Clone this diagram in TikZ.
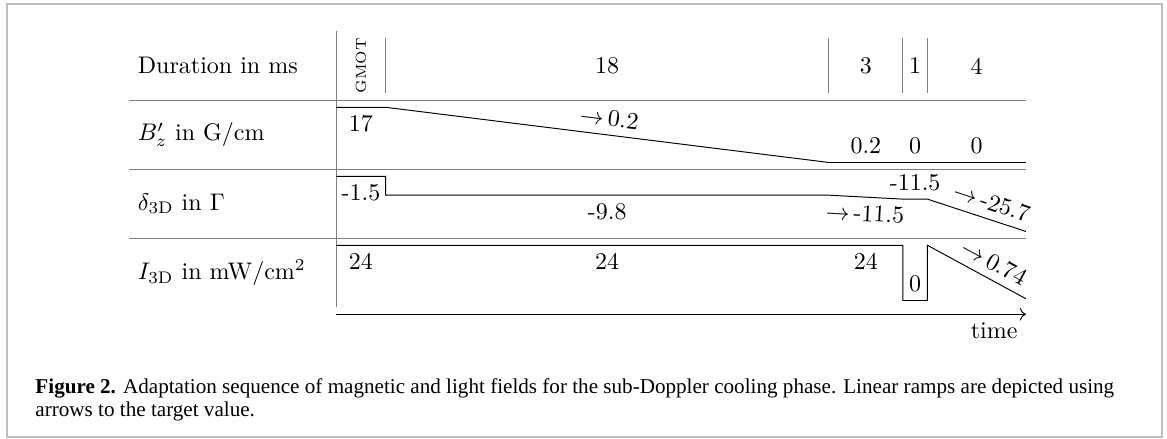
\documentclass[tikz,border=0pt]{standalone}
\usepackage{fontspec}
\newfontfamily\capfont{Liberation Serif}
\usetikzlibrary{arrows.meta, positioning}
\tikzset{
  grid/.style={draw=gray, line width=0.4pt},
  signal/.style={draw=black, line width=0.4pt},
  rowlabel/.style={anchor=west},
  value/.style={inner sep=3.3pt},
  ramp/.style={sloped, inner sep=3.3pt},
  frame/.style={draw=black!25, line width=0.8pt},
  caption/.style={font=\capfont\fontsize{8.8}{10.5}\selectfont, anchor=base west, inner sep=0pt},
}
\newcommand{\target}[1]{$\to$\,#1}

\begin{document}
\begin{tikzpicture}[x=0.3607cm, y=1.0105cm]
  \useasboundingbox (-13.654,-1.807) rectangle (33.727,4.555);
  % frame
  \draw[frame] (-13.37,-1.778) rectangle (33.52,4.497);
  % row labels
  \node[rowlabel] (ldur) at (-8.4,3.6) {Duration in ms};
  \node[rowlabel] (lB) at (-8.4,2.6) {$B'_z$ in G/cm};
  \node[rowlabel] (ldelta) at (-8.4,1.6) {$\delta_{\mathrm{3D}}$ in $\Gamma$};
  \node[rowlabel] (lI) at (-8.4,0.6) {$I_{\mathrm{3D}}$ in mW/cm$^2$};
  % grid
  \draw[grid] (0,0.1) -- (0,4.1);
  \foreach \y in {1.1,2.1,3.1} \draw[grid] (-8.4,\y) -- (28,\y);
  \foreach \t in {2,20,23,24} \draw[grid] (\t,3.2) -- (\t,4.0);
  % durations
  \node[rotate=90, font=\fontsize{6}{7}\selectfont] (dgmot) at (1,3.6) {GMOT};
  \node (d18) at (11,3.6) {18};
  \node (d3) at (21.5,3.6) {3};
  \node (d1) at (23.5,3.6) {1};
  \node (d4) at (26,3.6) {4};
  % B'_z
  \draw[signal] (0,3.0) -- node[value, below] (b17) {17} (2,3.0)
    -- node[ramp, above] (br02) {\target{0.2}} (20,2.2)
    -- node[value, above] (b02) {0.2} (23,2.2)
    -- node[value, above] (b0a) {0} (24,2.2)
    -- node[value, above] (b0b) {0} (28,2.2);
  % delta_3D
  \draw[signal] (0,2.0) -- node[value, below] (dm15) {-1.5} (2,2.0) -- (2,1.726)
    -- node[value, below] (dm98) {-9.8} (20,1.726)
    -- node[ramp, below] (dr115) {\target{-11.5}} (23,1.669)
    -- node[value, above] (dm115) {-11.5} (24,1.669)
    -- node[ramp, above, pos=0.6] (dr257) {\target{-25.7}} (28,1.2);
  % I_3D
  \draw[signal] (0,1.0) -- node[value, below] (i24a) {24} (2,1.0)
    -- node[value, below] (i24b) {24} (20,1.0)
    -- node[value, below] (i24c) {24} (23,1.0) -- (23,0.2)
    -- node[value, above] (i0) {0} (24,0.2) -- (24,1.0)
    -- node[ramp, above, pos=0.6] (ir074) {\target{0.74}} (28,0.225);
  % time axis
  \coordinate (t0) at (0,0);
  \coordinate (t1) at (28,0);
  \draw[->] (t0) -- (t1) node[below left] (ltime) {time};
  % caption
  \node[caption] (cap1) at (-12.233,-1.155) {\textbf{Figure 2.} Adaptation sequence of magnetic and light fields for the sub-Doppler cooling phase. Linear ramps are depicted using};
  \node[caption] (cap2) at (-12.233,-1.474) {arrows to the target value.};
\end{tikzpicture}
\end{document}
